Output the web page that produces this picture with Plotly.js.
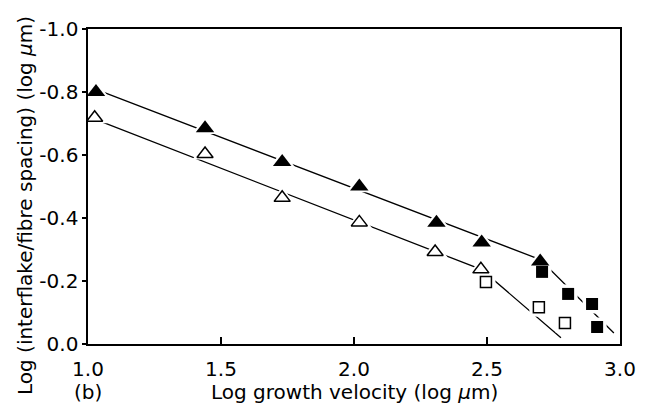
<!DOCTYPE html>
<html>
<head>
<meta charset="utf-8">
<script src="https://cdn.plot.ly/plotly-3.0.1.min.js"></script>
<style>
html,body{margin:0;padding:0;background:#fff;}
#chart{width:647px;height:404px;}
</style>
</head>
<body>
<div id="chart"></div>
<script>
// Filled triangles (interflake spacing)
const filledTriX = [1.03, 1.44, 1.73, 2.02, 2.31, 2.48, 2.70];
const filledTriY = [-0.80, -0.685, -0.578, -0.50, -0.385, -0.322, -0.262];
// Open triangles
const openTriX = [1.025, 1.44, 1.73, 2.02, 2.305, 2.477];
const openTriY = [-0.718, -0.603, -0.464, -0.386, -0.292, -0.237];
// Open squares
const openSqX = [2.496, 2.695, 2.793];
const openSqY = [-0.197, -0.117, -0.067];
// Filled squares
const filledSqX = [2.707, 2.805, 2.895, 2.914];
const filledSqY = [-0.229, -0.159, -0.127, -0.054];
// Fit lines (break points)
const upperLineX = [1.03, 2.70, 2.977];
const upperLineY = [-0.808, -0.268, -0.035];
const lowerLineX = [1.03, 2.48, 2.778];
const lowerLineY = [-0.712, -0.236, -0.02];
// Tick labels
const xTickVals = [1.0, 1.5, 2.0, 2.5, 3.0];
const xTickText = ["1.0", "1.5", "2.0", "2.5", "3.0"];
const yTickVals = [0.0, -0.2, -0.4, -0.6, -0.8, -1.0];
const yTickText = ["0.0", "-0.2", "-0.4", "-0.6", "-0.8", "-1.0"];

const font = "DejaVu Sans, Verdana, sans-serif";

function line(x, y) {
  return {x: x, y: y, mode: "lines", type: "scatter", hoverinfo: "skip",
    line: {color: "#000", width: 1.3}, showlegend: false};
}
function halo(x, y, sym, size) {
  return {x: x, y: y, mode: "markers", type: "scatter", hoverinfo: "skip", showlegend: false,
    marker: {symbol: sym, size: size + 8, color: "#fff", line: {width: 0}}};
}
function pts(x, y, sym, size, filled) {
  return {x: x, y: y, mode: "markers", type: "scatter", showlegend: false,
    marker: {symbol: sym, size: size, color: filled ? "#000" : "#fff",
      line: {color: "#000", width: filled ? 0 : 1.5}}};
}

const data = [
  line(upperLineX, upperLineY),
  line(lowerLineX, lowerLineY),
  halo(filledTriX, filledTriY, "triangle-up", 15),
  halo(openTriX, openTriY, "triangle-up", 14),
  halo(openSqX, openSqY, "square", 11),
  halo(filledSqX, filledSqY, "square", 11),
  pts(openTriX, openTriY, "triangle-up", 14, false),
  pts(openSqX, openSqY, "square", 11, false),
  pts(filledSqX, filledSqY, "square", 12, true),
  pts(filledTriX, filledTriY, "triangle-up", 16, true)
];

const layout = {
  width: 647, height: 404,
  margin: {l: 88, r: 27, t: 29, b: 60, pad: 0},
  paper_bgcolor: "#fff", plot_bgcolor: "#fff",
  font: {family: font, color: "#000", size: 20},
  xaxis: {
    range: [1.0, 3.0], tickvals: xTickVals, ticktext: xTickText,
    ticks: "inside", ticklen: 7, tickwidth: 1.2, tickcolor: "#000",
    showline: true, linecolor: "#000", linewidth: 1.6, mirror: true,
    showgrid: false, zeroline: false, tickfont: {size: 20, family: font},
    ticklabelstandoff: 6
  },
  yaxis: {
    range: [0, -1.0], tickvals: yTickVals, ticktext: yTickText,
    ticks: "outside", ticklen: 4, tickwidth: 1.2, tickcolor: "#000",
    showline: true, linecolor: "#000", linewidth: 1.6, mirror: true,
    showgrid: false, zeroline: false, tickfont: {size: 20, family: font}
  },
  annotations: [
    {text: "Log growth velocity (log <i>μ</i>m)", xref: "paper", yref: "paper",
      x: (354 - 88) / 532, y: -(392 - 344) / 315, xanchor: "center", yanchor: "middle",
      showarrow: false, font: {size: 20, family: font}},
    {text: "(b)", xref: "paper", yref: "paper",
      x: (88 - 88) / 532, y: -(392 - 344) / 315, xanchor: "center", yanchor: "middle",
      showarrow: false, font: {size: 20, family: font}},
    {text: "Log (interflake/fibre spacing) (log <i>μ</i>m)", xref: "paper", yref: "paper",
      x: -(88 - 25) / 532, y: (344 - 206) / 315, xanchor: "center", yanchor: "middle",
      textangle: -90, showarrow: false, font: {size: 20, family: font}}
  ]
};

Plotly.newPlot("chart", data, layout, {staticPlot: true, displayModeBar: false});
</script>
</body>
</html>
